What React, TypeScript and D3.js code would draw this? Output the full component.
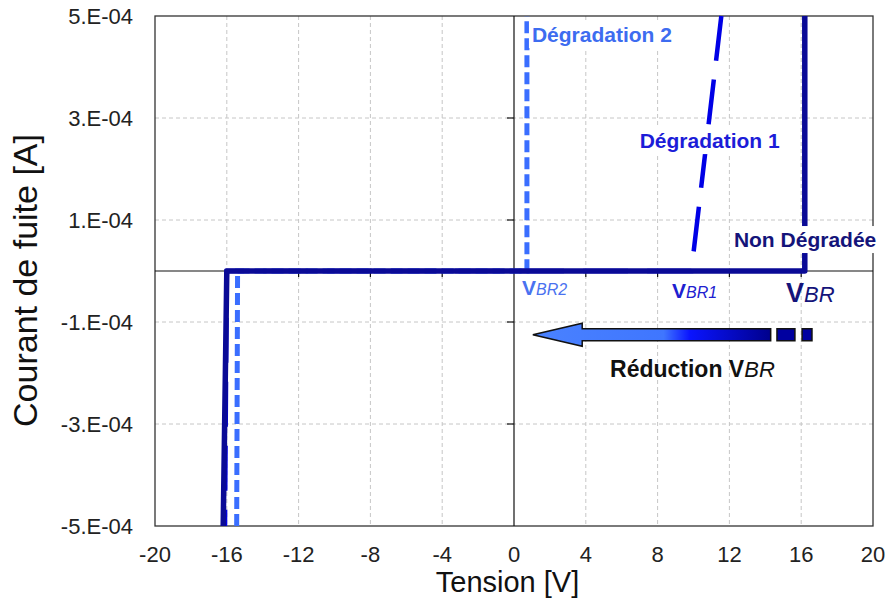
import * as d3 from "d3";
import { useEffect, useRef } from "react";

const voltTicks = [-20, -16, -12, -8, -4, 0, 4, 8, 12, 16, 20];
const currentTicks = [-5e-4, -3e-4, -1e-4, 1e-4, 3e-4, 5e-4];
const currentLabels = ["-5.E-04", "-3.E-04", "-1.E-04", "1.E-04", "3.E-04", "5.E-04"];

// Non Dégradée
const nonDegV = [-16.2, -16.0, 16.2, 16.2];
const nonDegI = [-5e-4, 0, 0, 5e-4];
// Dégradation 1 (listed from the top so the dashes line up)
const deg1V = [11.55, 9.88, -16.0, -16.1];
const deg1I = [5e-4, 0, 0, -5e-4];
// Dégradation 2
const deg2V = [-15.45, -15.4, 0.72, 0.72];
const deg2I = [-5e-4, 0, 0, 5e-4];

const font = "Arial, 'Liberation Sans', sans-serif";

export default function App() {
  const ref = useRef<SVGSVGElement>(null);

  useEffect(() => {
    const svg = d3.select(ref.current);
    svg.selectAll("*").remove();

    const x = d3.scaleLinear().domain([-20, 20]).range([155, 873]);
    const y = d3.scaleLinear().domain([-5e-4, 5e-4]).range([526, 16]);

    svg.append("rect").attr("width", 888).attr("height", 599).attr("fill", "#fff");

    // grid
    const grid = svg.append("g").attr("stroke", "#c6c6c6").attr("stroke-dasharray", "4,3");
    grid
      .selectAll("line.gv")
      .data(voltTicks.filter((v) => v !== 0 && Math.abs(v) !== 20))
      .join("line")
      .attr("class", "gv")
      .attr("x1", (d) => x(d))
      .attr("x2", (d) => x(d))
      .attr("y1", y(5e-4))
      .attr("y2", y(-5e-4));
    grid
      .selectAll("line.gh")
      .data(currentTicks.filter((v) => Math.abs(v) < 5e-4))
      .join("line")
      .attr("class", "gh")
      .attr("x1", x(-20))
      .attr("x2", x(20))
      .attr("y1", (d) => y(d))
      .attr("y2", (d) => y(d));

    // frame and zero axes
    svg
      .append("rect")
      .attr("x", x(-20))
      .attr("y", y(5e-4))
      .attr("width", x(20) - x(-20))
      .attr("height", y(-5e-4) - y(5e-4))
      .attr("fill", "none")
      .attr("stroke", "#333")
      .attr("stroke-width", 1.3);

    const axes = svg.append("g").attr("stroke", "#111").attr("stroke-width", 1.2);
    axes.append("line").attr("x1", x(0)).attr("x2", x(0)).attr("y1", y(5e-4)).attr("y2", y(-5e-4));
    axes.append("line").attr("x1", x(-20)).attr("x2", x(20)).attr("y1", y(0)).attr("y2", y(0));
    axes
      .selectAll("line.ty")
      .data(currentTicks.filter((v) => Math.abs(v) < 5e-4))
      .join("line")
      .attr("class", "ty")
      .attr("x1", x(0) - 7)
      .attr("x2", x(0))
      .attr("y1", (d) => y(d))
      .attr("y2", (d) => y(d));
    axes
      .selectAll("line.tx")
      .data(voltTicks.filter((v) => v !== 0 && Math.abs(v) !== 20))
      .join("line")
      .attr("class", "tx")
      .attr("x1", (d) => x(d))
      .attr("x2", (d) => x(d))
      .attr("y1", y(0))
      .attr("y2", y(0) + 6);

    // tick labels
    svg
      .append("g")
      .selectAll("text")
      .data(currentTicks)
      .join("text")
      .attr("x", 133)
      .attr("y", (d) => y(d) + 8)
      .attr("text-anchor", "end")
      .attr("font-family", font)
      .attr("font-size", 22)
      .attr("fill", "#222")
      .text((d, i) => currentLabels[i]);
    svg
      .append("g")
      .selectAll("text")
      .data(voltTicks)
      .join("text")
      .attr("x", (d) => x(d))
      .attr("y", y(-5e-4) + 36)
      .attr("text-anchor", "middle")
      .attr("font-family", font)
      .attr("font-size", 22)
      .attr("fill", "#222")
      .text((d) => String(d));

    // axis titles
    svg
      .append("text")
      .attr("x", 507.5)
      .attr("y", 592)
      .attr("text-anchor", "middle")
      .attr("font-family", font)
      .attr("font-size", 29)
      .attr("fill", "#111")
      .text("Tension [V]");
    svg
      .append("text")
      .attr("transform", "translate(37,280.5) rotate(-90)")
      .attr("text-anchor", "middle")
      .attr("font-family", font)
      .attr("font-size", 34)
      .attr("fill", "#111")
      .text("Courant de fuite [A]");

    // curves
    const line = d3
      .line<[number, number]>()
      .x((d) => x(d[0]))
      .y((d) => y(d[1]));

    svg
      .append("path")
      .attr("d", line(d3.zip(deg1V, deg1I) as [number, number][]))
      .attr("fill", "none")
      .attr("stroke", "#0000E6")
      .attr("stroke-width", 4.5)
      .attr("stroke-dasharray", "45,19");
    svg
      .append("path")
      .attr("d", line(d3.zip(deg2V, deg2I) as [number, number][]))
      .attr("fill", "none")
      .attr("stroke", "#3A6EFF")
      .attr("stroke-width", 5)
      .attr("stroke-dasharray", "12,5");
    svg
      .append("path")
      .attr("d", line(d3.zip(nonDegV, nonDegI) as [number, number][]))
      .attr("fill", "none")
      .attr("stroke", "#0A0A96")
      .attr("stroke-width", 5.5)
      .attr("stroke-linejoin", "round");

    // series labels on white boxes
    const boxed = (txt: string, v: number, i: number, color: string) => {
      const g = svg.append("g");
      const rect = g.append("rect").attr("fill", "#fff");
      const t = g
        .append("text")
        .attr("x", x(v))
        .attr("y", y(i))
        .attr("font-family", font)
        .attr("font-size", 21)
        .attr("font-weight", "bold")
        .attr("fill", color)
        .text(txt);
      const b = (t.node() as SVGTextElement).getBBox();
      rect
        .attr("x", b.x - 3)
        .attr("y", b.y - 2)
        .attr("width", b.width + 6)
        .attr("height", b.height + 4);
    };
    boxed("Dégradation 2", 1.0, 4.49e-4, "#3D6CF0");
    boxed("Dégradation 1", 7.0, 2.41e-4, "#1C1CD8");
    boxed("Non Dégradée", 12.25, 0.47e-4, "#14147A");

    // V_BR labels
    const vbr = (v: number, off: number, sub: string, color: string, big: number, small: number) => {
      const t = svg
        .append("text")
        .attr("x", x(v))
        .attr("y", y(0) + off)
        .attr("font-family", font)
        .attr("fill", color);
      t.append("tspan").attr("font-size", big).attr("font-weight", "bold").text("V");
      t.append("tspan").attr("font-size", small).attr("font-style", "italic").text(sub);
    };
    vbr(0.45, 24, "BR2", "#4A72F0", 21, 16);
    vbr(8.8, 27, "BR1", "#2020D0", 21, 16);
    vbr(15.15, 31, "BR", "#14147A", 27, 22);

    // reduction arrow
    const aI = -1.25e-4;
    const cy = y(aI);
    const grad = svg
      .append("defs")
      .append("linearGradient")
      .attr("id", "arrowGrad")
      .attr("gradientUnits", "userSpaceOnUse")
      .attr("x1", x(1.05))
      .attr("x2", x(14.3))
      .attr("y1", 0)
      .attr("y2", 0);
    grad.append("stop").attr("offset", 0).attr("stop-color", "#4A82FF");
    grad.append("stop").attr("offset", 0.55).attr("stop-color", "#3F76FF");
    grad.append("stop").attr("offset", 0.66).attr("stop-color", "#0A14FF");
    grad.append("stop").attr("offset", 1).attr("stop-color", "#00008C");

    const arrow = d3.path();
    arrow.moveTo(x(1.05), cy);
    arrow.lineTo(x(3.8), cy - 11.5);
    arrow.lineTo(x(3.8), cy - 6);
    arrow.lineTo(x(14.3), cy - 6);
    arrow.lineTo(x(14.3), cy + 6);
    arrow.lineTo(x(3.8), cy + 6);
    arrow.lineTo(x(3.8), cy + 11.5);
    arrow.closePath();
    svg
      .append("path")
      .attr("d", arrow.toString())
      .attr("fill", "url(#arrowGrad)")
      .attr("stroke", "#111")
      .attr("stroke-width", 1.5)
      .attr("stroke-linejoin", "miter");

    svg
      .selectAll("rect.stub")
      .data([
        [14.65, 15.65],
        [16.05, 16.6],
      ])
      .join("rect")
      .attr("class", "stub")
      .attr("x", (d) => x(d[0]))
      .attr("y", cy - 6)
      .attr("width", (d) => x(d[1]) - x(d[0]))
      .attr("height", 12)
      .attr("fill", "#0000A0")
      .attr("stroke", "#111")
      .attr("stroke-width", 1.5);

    const red = svg
      .append("text")
      .attr("x", x(5.35))
      .attr("y", y(0) + 106)
      .attr("font-family", font)
      .attr("fill", "#111");
    red.append("tspan").attr("font-size", 23).attr("font-weight", "bold").text("Réduction V");
    red.append("tspan").attr("font-size", 22).attr("font-style", "italic").text("BR");
  }, []);

  return (
    <svg
      ref={ref}
      width={888}
      height={599}
      style={{ position: "absolute", left: 0, top: 0 }}
    />
  );
}
